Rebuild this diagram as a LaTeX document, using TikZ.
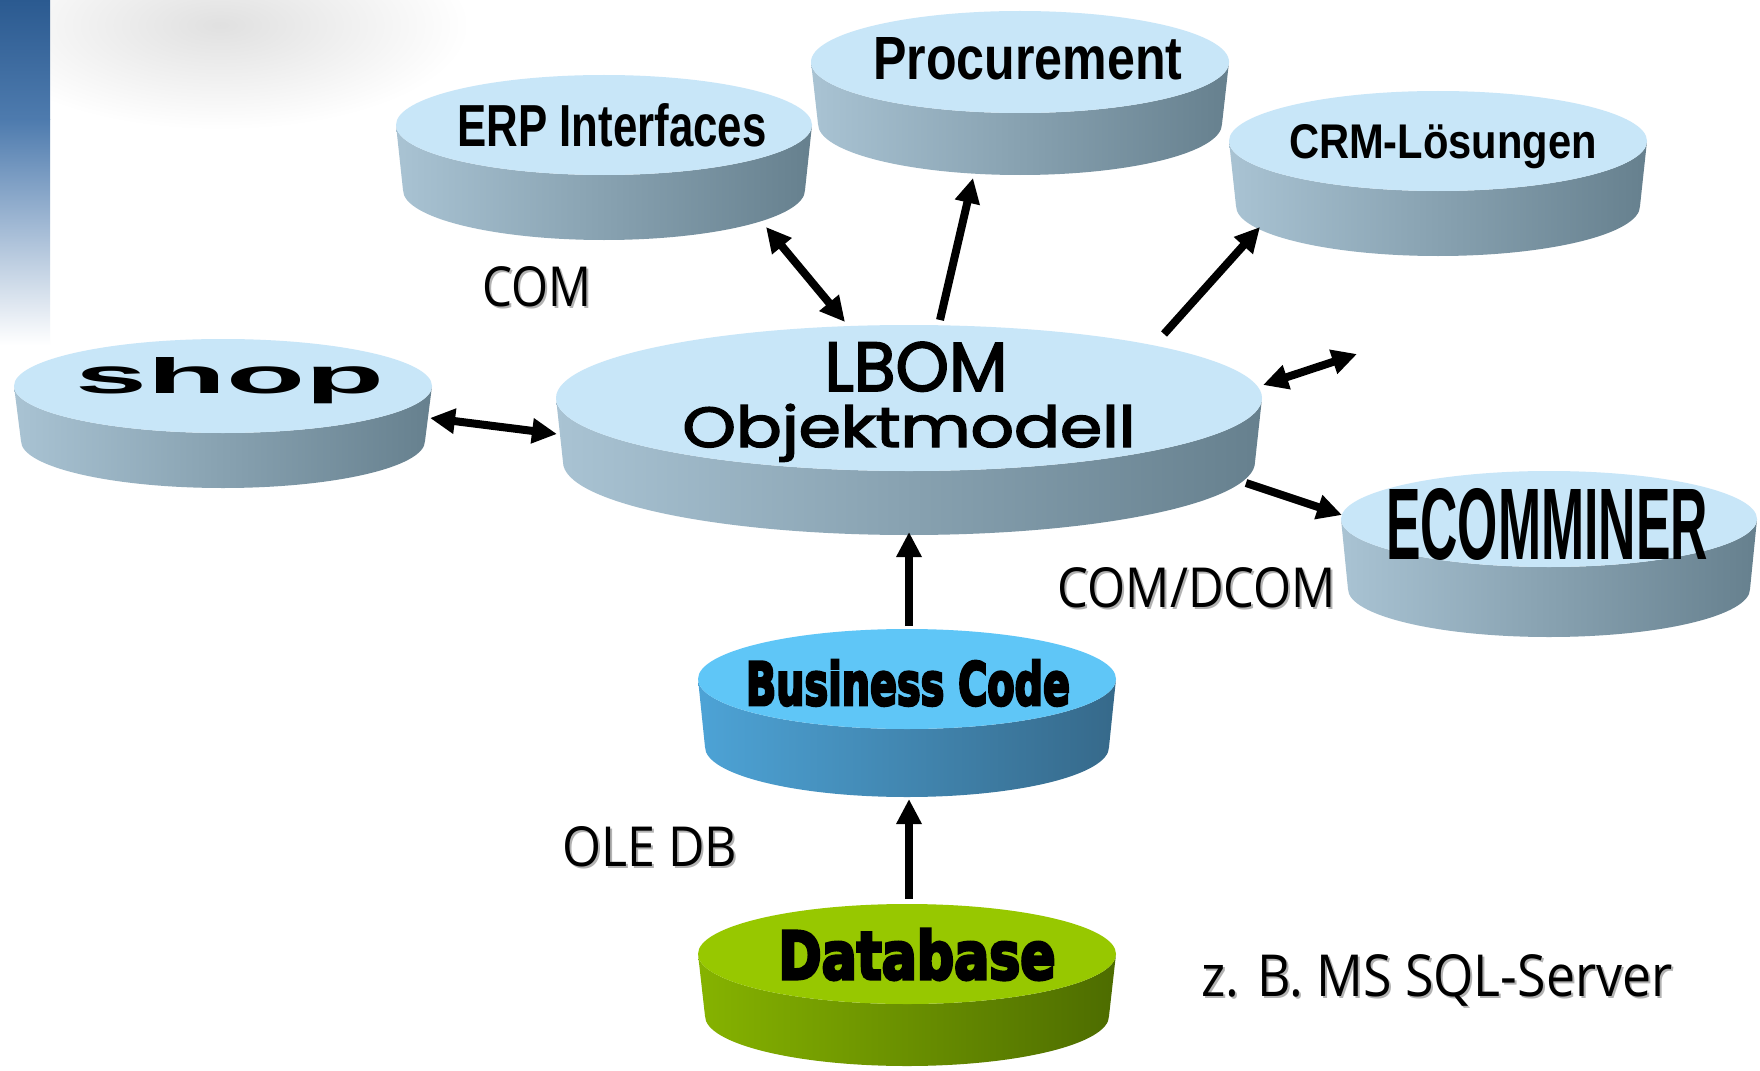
\documentclass[tikz,border=0pt]{standalone}
\usepackage{fontspec}
\usepackage{graphicx}
\usetikzlibrary{arrows.meta}
\setmainfont{Liberation Sans}
\newfontfamily\heavyfont[FakeBold=5]{DejaVu Sans Bold}
\newfontfamily\geofont[FakeBold=2.5]{Poppins}
\newfontfamily\labelfont{Open Sans}
\definecolor{topface}{HTML}{C8E6F8}
\definecolor{sideL}{HTML}{A9C3D3}
\definecolor{sideM}{HTML}{8AA1AF}
\definecolor{sideR}{HTML}{66808E}
\definecolor{bizTop}{HTML}{5FC6F7}
\definecolor{bizL}{HTML}{4DA3D6}
\definecolor{bizM}{HTML}{4487B0}
\definecolor{bizR}{HTML}{36698A}
\definecolor{dbTop}{HTML}{97C800}
\definecolor{dbL}{HTML}{86B300}
\definecolor{dbM}{HTML}{6E9600}
\definecolor{dbR}{HTML}{4D6C00}
\definecolor{barTop}{HTML}{2B5A90}
\definecolor{barMid}{HTML}{4E7BAE}
% cx cy rx ry h top left mid right
\newcommand\drawdisk[9]{%
  \shade[left color=#7, middle color=#8, right color=#9]
    (#1-#3,#2) -- (#1-#3+7,#2+#5)
    arc[start angle=180, end angle=0, x radius=#3-7, y radius=#4]
    -- (#1+#3,#2)
    arc[start angle=0, end angle=180, x radius=#3, y radius=#4] -- cycle;
  \fill[#6] (#1,#2) ellipse[x radius=#3, y radius=#4];
}
\tikzset{
  txt/.style={inner sep=0pt, outer sep=0pt, anchor=base, text=black},
  lbltxt/.style={inner sep=0pt, outer sep=0pt, anchor=base, text=black, font=\labelfont},
  lblshadow/.style={inner sep=0pt, outer sep=0pt, anchor=base, text=black!30, font=\labelfont},
  arr/.style={line width=8pt, -{Triangle[length=25pt,width=24pt]}},
  darr/.style={line width=8pt, {Triangle[length=25pt,width=24pt]}-{Triangle[length=25pt,width=24pt]}}
}
\newcommand\lbl[6]{%
  \node[lblshadow] (#1-s) at (#2+2,#3+2) {\resizebox{#4pt}{#5pt}{#6}};
  \node[lbltxt] (#1) at (#2,#3) {\resizebox{#4pt}{#5pt}{#6}};
}
\begin{document}
\begin{tikzpicture}[x=1pt, y=-1pt]
\useasboundingbox (0,0) rectangle (1760,1070);
\fill[white] (0,0) rectangle (1760,1070);
% background decoration
\shade[inner color=black!12, outer color=white] (220,25) ellipse[x radius=250, y radius=105];
\shade[top color=barTop, bottom color=barMid] (0,0) rectangle (50,120);
\shade[top color=barMid, bottom color=white] (0,120) rectangle (50,345);
% disks
\drawdisk{604}{125}{208}{50}{65}{topface}{sideL}{sideM}{sideR}
\drawdisk{1020}{62}{209}{51}{62}{topface}{sideL}{sideM}{sideR}
\drawdisk{1438}{141}{209}{50}{65}{topface}{sideL}{sideM}{sideR}
\drawdisk{223}{386}{209}{47}{55}{topface}{sideL}{sideM}{sideR}
\drawdisk{909}{398}{353}{73}{64}{topface}{sideL}{sideM}{sideR}
\drawdisk{1549}{519}{208}{48}{70}{topface}{sideL}{sideM}{sideR}
\drawdisk{907}{679}{209}{50}{68}{bizTop}{bizL}{bizM}{bizR}
\drawdisk{907}{954}{209}{50}{62}{dbTop}{dbL}{dbM}{dbR}
% disk texts
\node[txt] (erp) at (612,146) {\resizebox{309pt}{43pt}{\bfseries ERP Interfaces}};
\node[txt] (proc) at (1028,80) {\resizebox{309pt}{42pt}{\bfseries Procurement}};
\node[txt] (crm) at (1443,158) {\resizebox{308pt}{34pt}{\bfseries CRM-Lösungen}};
\node[txt] (shop) at (230,393) {\resizebox{309pt}{36pt}{\bfseries shop}};
\node[txt] (lbom) at (916,391) {\resizebox{183pt}{49pt}{\geofont LBOM}};
\node[txt] (objm) at (909,447) {\resizebox{453pt}{43pt}{\geofont Objektmodell}};
\node[txt] (ecom) at (1547,559) {\resizebox{322pt}{71pt}{\bfseries ECOMMINER}};
\node[txt] (biz) at (908,705) {\resizebox{324pt}{45pt}{\heavyfont Business Code}};
\node[txt] (db) at (917,979) {\resizebox{277pt}{50pt}{\heavyfont Database}};
% labels
\lbl{com}{537}{306}{109}{40}{COM}
\lbl{dcom}{1197}{607}{278}{40}{COM/DCOM}
\lbl{oledb}{650}{866}{175}{40}{OLE DB}
\lbl{sql}{1437}{996}{471}{42}{z. B. MS SQL-Server}
% connector end points
\coordinate (erpE) at (766,227);
\coordinate (lbomErp) at (845,322);
\coordinate (lbomProc) at (940,320);
\coordinate (procE) at (973,178);
\coordinate (lbomCrm) at (1164,334);
\coordinate (crmE) at (1260,227);
\coordinate (lbomR) at (1263,385);
\coordinate (freeR) at (1357,354);
\coordinate (lbomEcom) at (1246,483);
\coordinate (ecomE) at (1342,515);
\coordinate (shopE) at (430,418);
\coordinate (lbomShop) at (557,434);
\coordinate (bizTopE) at (909,626);
\coordinate (lbomBot) at (909,532);
\coordinate (dbTopE) at (909,899);
\coordinate (bizBot) at (909,799);
% connectors
\draw[darr] (erpE) -- (lbomErp);
\draw[arr] (lbomProc) -- (procE);
\draw[arr] (lbomCrm) -- (crmE);
\draw[darr] (lbomR) -- (freeR);
\draw[arr] (lbomEcom) -- (ecomE);
\draw[darr] (shopE) -- (lbomShop);
\draw[arr] (bizTopE) -- (lbomBot);
\draw[arr] (dbTopE) -- (bizBot);
\end{tikzpicture}
\end{document}
